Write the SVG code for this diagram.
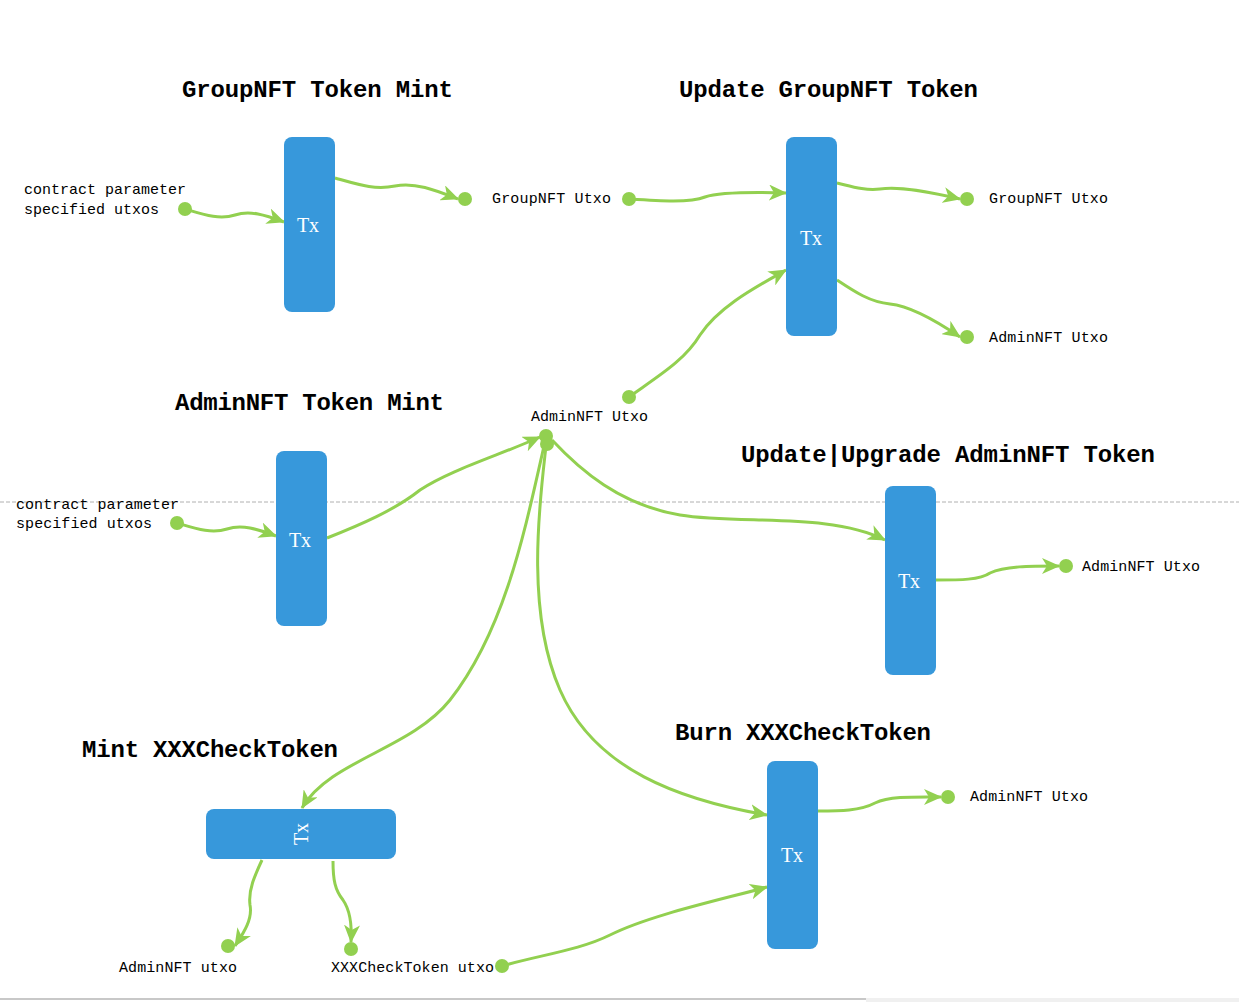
<svg xmlns="http://www.w3.org/2000/svg" width="1239" height="1002" viewBox="0 0 1239 1002">
<style>
.tx{fill:#3798db}
.txt{font-family:"Liberation Serif",serif;font-size:20px;fill:#fff}
.title{font-family:"Liberation Mono",monospace;font-size:24px;font-weight:bold;fill:#000}
.lbl{font-family:"Liberation Mono",monospace;font-size:15px;fill:#000}
.dot{fill:#92d050}
.c{fill:none;stroke:#92d050;stroke-width:3;marker-end:url(#ah)}
</style>
<defs>
<marker id="ah" markerUnits="userSpaceOnUse" markerWidth="20" markerHeight="16" refX="17" refY="8" orient="auto">
<path d="M0,0 L18,8 L0,16 L5,8 Z" fill="#92d050"/>
</marker>
</defs>
<rect width="1239" height="1002" fill="#fff"/>
<line x1="0" y1="502" x2="1239" y2="502" stroke="#b0b0b0" stroke-width="1" stroke-dasharray="4,2"/>
<line x1="0" y1="999" x2="866" y2="999" stroke="#c8c8c8" stroke-width="2"/>
<rect x="866" y="998" width="373" height="4" fill="#f0f0f0"/>

<g id="titles">
<text class="title" x="182" y="97" textLength="271">GroupNFT Token Mint</text>
<text class="title" x="679" y="97" textLength="299">Update GroupNFT Token</text>
<text class="title" x="175" y="410" textLength="269">AdminNFT Token Mint</text>
<text class="title" x="741" y="462" textLength="414">Update|Upgrade AdminNFT Token</text>
<text class="title" x="82" y="757" textLength="256">Mint XXXCheckToken</text>
<text class="title" x="675" y="740" textLength="256">Burn XXXCheckToken</text>
</g>

<g id="connectors">
<path class="c" d="M185,209 C205,215 220,220 235,215 C250,210 265,215 284,222"/>
<path class="c" d="M335,178 C360,185 375,190 395,186 C415,182 435,190 458,199"/>
<path class="c" d="M629,199 C660,201 690,203 705,197 C720,192 750,192 786,193"/>
<path class="c" d="M837,183 C850,186 865,191 880,189 C900,186 930,192 960,199"/>
<path class="c" d="M837,280 C855,292 870,302 890,304 C910,306 935,320 960,337"/>
<path class="c" d="M629,397 C660,375 685,360 700,335 C720,305 760,285 786,270"/>
<path class="c" d="M177,523 C197,529 212,534 227,529 C242,524 257,529 276,536"/>
<path class="c" d="M327,538 C360,525 395,510 420,490 C450,470 500,455 540,437"/>
<path class="c" d="M552,440 C580,470 620,505 680,515 C740,525 830,512 885,540"/>
<path class="c" d="M936,580 C960,580 980,580 990,573 C1005,566 1030,566 1059,566"/>
<path class="c" d="M544,446 C525,530 505,630 450,700 C410,750 330,760 302,808"/>
<path class="c" d="M546,446 C540,500 525,610 560,690 C595,770 680,800 767,815"/>
<path class="c" d="M262,860 C255,875 248,890 250,905 C253,920 242,935 235,946"/>
<path class="c" d="M333,861 C333,880 335,890 343,900 C350,910 352,925 351,942"/>
<path class="c" d="M502,966 C540,955 580,950 610,935 C650,915 720,900 767,887"/>
<path class="c" d="M818,811 C840,811 860,811 875,803 C890,796 915,797 941,797"/>
</g>

<g id="tx1"><rect class="tx" x="284" y="137" width="51" height="175" rx="8"/><text class="txt" x="308" y="232" text-anchor="middle">Tx</text></g>
<g id="tx2"><rect class="tx" x="786" y="137" width="51" height="199" rx="8"/><text class="txt" x="811" y="245" text-anchor="middle">Tx</text></g>
<g id="tx3"><rect class="tx" x="276" y="451" width="51" height="175" rx="8"/><text class="txt" x="300" y="547" text-anchor="middle">Tx</text></g>
<g id="tx4"><rect class="tx" x="885" y="486" width="51" height="189" rx="8"/><text class="txt" x="909" y="588" text-anchor="middle">Tx</text></g>
<g id="tx5"><rect class="tx" x="206" y="809" width="190" height="50" rx="8"/><text class="txt" transform="translate(301,834) rotate(-90)" x="0" y="7" text-anchor="middle">Tx</text></g>
<g id="tx6"><rect class="tx" x="767" y="761" width="51" height="188" rx="8"/><text class="txt" x="792" y="862" text-anchor="middle">Tx</text></g>

<g id="dots">
<circle class="dot" cx="185" cy="209" r="7"/>
<circle class="dot" cx="465" cy="199" r="7"/>
<circle class="dot" cx="629" cy="199" r="7"/>
<circle class="dot" cx="967" cy="199" r="7"/>
<circle class="dot" cx="967" cy="337" r="7"/>
<circle class="dot" cx="629" cy="397" r="7"/>
<circle class="dot" cx="546" cy="436" r="7"/>
<circle class="dot" cx="547" cy="444" r="7"/>
<circle class="dot" cx="177" cy="523" r="7"/>
<circle class="dot" cx="1066" cy="566" r="7"/>
<circle class="dot" cx="948" cy="797" r="7"/>
<circle class="dot" cx="228" cy="946" r="7"/>
<circle class="dot" cx="351" cy="949" r="7"/>
<circle class="dot" cx="502" cy="966" r="7"/>
</g>

<g id="labels">
<text class="lbl" x="24" y="194" textLength="162">contract parameter</text>
<text class="lbl" x="24" y="214" textLength="135">specified utxos</text>
<text class="lbl" x="492" y="203" textLength="119">GroupNFT Utxo</text>
<text class="lbl" x="989" y="203" textLength="119">GroupNFT Utxo</text>
<text class="lbl" x="989" y="342" textLength="119">AdminNFT Utxo</text>
<text class="lbl" x="531" y="421" textLength="117">AdminNFT Utxo</text>
<text class="lbl" x="16" y="509" textLength="163">contract parameter</text>
<text class="lbl" x="16" y="528" textLength="136">specified utxos</text>
<text class="lbl" x="1082" y="571" textLength="118">AdminNFT Utxo</text>
<text class="lbl" x="970" y="801" textLength="118">AdminNFT Utxo</text>
<text class="lbl" x="119" y="972" textLength="118">AdminNFT utxo</text>
<text class="lbl" x="331" y="972" textLength="163">XXXCheckToken utxo</text>
</g>
</svg>
